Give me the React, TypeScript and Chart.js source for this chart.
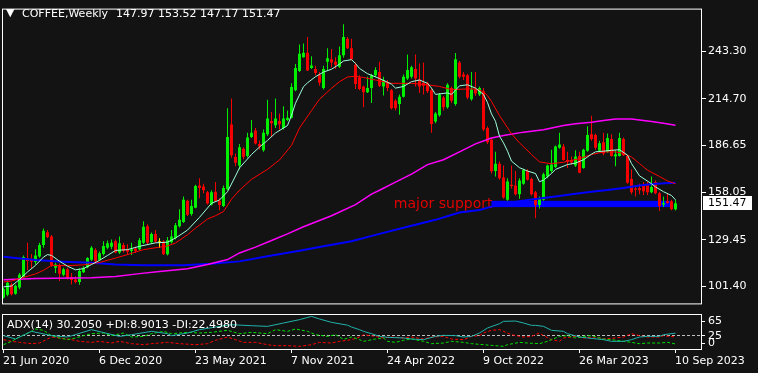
import React, { useEffect, useRef } from 'react';
import { Chart, registerables } from 'chart.js';

Chart.register(...registerables);

const FONT = "'DejaVu Sans', sans-serif";
const BG = '#131313';
const BULL = '#00ee00';
const BEAR = '#f40000';
const DOJI = '#ffee00';

// ---- Weekly candles (index 0 = week of 21 Jun 2020) ----
const opens = [
  94.5, 96.2, 102.5, 96.8, 100.6, 107.0, 118.4, 117.8, 116.0, 119.3,
  126.3, 134.0, 131.5, 112.6, 114.1, 108.3, 111.6, 106.8, 105.4, 103.9,
  109.9, 112.8, 117.4, 123.2, 117.4, 120.9, 124.7, 125.3, 128.6, 121.8,
  126.3, 123.8, 122.6, 124.2, 123.8, 127.6, 137.7, 128.0, 133.0, 128.0,
  128.4, 120.7, 128.0, 130.5, 137.7, 140.2, 153.1, 145.0, 148.8, 162.3,
  161.7, 158.1, 150.8, 158.5, 153.1, 149.8, 160.0, 199.1, 179.5, 174.3,
  184.5, 180.1, 191.6, 195.5, 187.4, 183.5, 193.2, 201.3, 198.6, 201.3,
  197.0, 201.9, 203.2, 219.8, 231.4, 239.8, 242.4, 233.3, 232.7, 229.4,
  221.1, 237.1, 238.5, 237.1, 234.0, 240.9, 251.0, 245.2, 235.2, 227.5,
  222.1, 218.6, 221.1, 228.8, 230.8, 222.1, 224.4, 219.8, 213.4, 211.5,
  215.9, 226.9, 227.9, 232.7, 226.3, 224.4, 224.0, 219.8, 200.9, 204.7,
  215.4, 209.6, 221.1, 211.5, 236.6, 229.4, 228.8, 214.4, 220.6, 217.3,
  219.2, 197.0, 189.9, 171.0, 175.4, 167.1, 153.6, 162.7, 162.3, 156.9,
  163.3, 171.0, 166.2, 158.1, 150.4, 153.6, 167.7, 171.0, 173.5, 185.1,
  185.8, 177.7, 177.7, 174.3, 180.1, 172.9, 183.2, 193.2, 192.8, 183.2,
  188.4, 182.6, 190.3, 179.7, 180.1, 190.3, 180.1, 166.2, 160.5, 160.8,
  162.5, 162.7, 158.1, 164.3, 157.5, 150.8, 152.7, 152.7, 147.97,
];
const highs = [
  100.6, 104.9, 103.5, 102.5, 109.3, 119.9, 127.6, 120.9, 123.8, 127.6,
  136.3, 135.3, 132.4, 115.5, 115.1, 112.6, 112.6, 109.3, 107.4, 112.2,
  113.5, 118.9, 125.7, 124.3, 122.4, 128.6, 129.0, 129.6, 129.6, 131.5,
  127.6, 126.7, 127.6, 125.3, 130.5, 140.7, 138.8, 133.8, 135.4, 130.3,
  129.2, 131.1, 135.4, 139.6, 147.9, 155.6, 153.7, 153.7, 162.7, 166.6,
  163.3, 158.9, 159.4, 164.3, 154.6, 162.3, 209.0, 214.8, 181.6, 187.4,
  185.4, 194.2, 201.9, 197.0, 189.3, 196.1, 214.0, 206.7, 214.8, 205.7,
  210.2, 207.6, 224.0, 235.6, 247.5, 248.1, 252.0, 240.4, 234.6, 230.8,
  234.6, 245.2, 244.8, 239.8, 246.2, 259.7, 252.0, 251.0, 236.6, 228.8,
  222.5, 227.9, 229.8, 233.7, 237.1, 227.9, 226.0, 220.6, 214.4, 217.3,
  229.4, 241.4, 234.6, 241.4, 236.0, 236.6, 225.0, 221.1, 206.7, 218.2,
  216.3, 224.0, 222.1, 242.3, 237.5, 230.8, 229.8, 230.8, 230.8, 222.1,
  221.1, 198.0, 190.5, 182.6, 176.8, 174.3, 166.6, 174.3, 171.0, 166.6,
  172.3, 172.0, 167.1, 158.9, 155.6, 170.0, 174.9, 183.9, 186.4, 194.1,
  187.4, 182.6, 179.7, 183.5, 182.6, 184.5, 198.0, 204.4, 193.6, 189.3,
  194.1, 193.6, 193.2, 183.5, 194.1, 191.2, 180.6, 172.0, 162.3, 163.3,
  164.3, 164.3, 167.7, 165.2, 158.5, 155.6, 157.5, 153.7, 153.52,
];
const lows = [
  93.9, 95.4, 95.8, 96.2, 99.6, 106.4, 111.2, 112.2, 114.5, 118.6,
  124.7, 130.5, 113.2, 109.3, 104.5, 107.4, 105.4, 102.5, 103.1, 102.2,
  109.3, 112.2, 116.6, 115.9, 116.6, 119.9, 123.8, 123.8, 121.3, 120.9,
  121.8, 120.3, 120.3, 121.5, 123.0, 126.9, 126.9, 127.2, 127.6, 124.5,
  120.3, 119.9, 127.2, 129.6, 136.9, 139.6, 143.8, 144.0, 148.5, 154.6,
  157.5, 150.8, 150.2, 152.3, 147.3, 149.2, 159.4, 179.0, 173.9, 172.0,
  178.1, 179.0, 190.9, 187.0, 184.0, 182.6, 192.2, 191.6, 197.0, 196.1,
  196.1, 201.3, 202.8, 219.2, 230.8, 239.5, 231.4, 232.7, 228.8, 222.5,
  220.2, 231.7, 233.7, 232.7, 233.3, 239.5, 244.8, 237.9, 220.6, 219.8,
  209.6, 218.2, 212.1, 227.9, 221.7, 216.7, 219.2, 208.2, 207.6, 205.0,
  215.4, 226.0, 226.9, 222.1, 218.2, 217.3, 218.2, 194.1, 199.9, 203.8,
  207.6, 208.6, 212.1, 210.5, 226.9, 226.0, 214.4, 213.4, 216.3, 216.3,
  195.1, 187.4, 169.5, 167.7, 165.8, 154.2, 153.1, 160.4, 156.2, 154.2,
  162.7, 165.2, 156.2, 142.5, 148.4, 153.1, 166.6, 170.0, 172.9, 184.5,
  177.4, 172.9, 174.9, 173.5, 169.6, 172.3, 182.6, 189.3, 183.9, 182.6,
  180.6, 182.0, 179.7, 173.9, 179.7, 180.1, 163.3, 156.9, 155.6, 156.9,
  156.5, 156.5, 157.5, 156.9, 146.9, 149.2, 151.2, 147.3, 147.17,
];
const closes = [
  99.7, 103.5, 96.6, 101.6, 108.3, 119.0, 116.6, 116.2, 119.9, 126.3,
  134.9, 131.1, 114.1, 114.5, 108.9, 111.6, 106.4, 105.1, 103.9, 110.6,
  112.6, 118.4, 124.7, 116.4, 121.3, 125.7, 127.4, 127.6, 121.8, 127.4,
  122.8, 122.2, 123.8, 122.6, 129.2, 137.3, 127.6, 133.0, 128.4, 128.0,
  120.7, 129.2, 131.5, 138.2, 141.5, 153.7, 144.6, 149.8, 161.9, 160.8,
  159.4, 151.3, 158.1, 152.7, 150.4, 160.8, 191.6, 180.6, 176.0, 185.4,
  179.6, 191.2, 194.2, 187.7, 185.8, 194.1, 202.8, 199.9, 202.8, 199.3,
  202.8, 203.2, 221.7, 233.3, 241.8, 242.4, 231.7, 234.7, 230.2, 224.4,
  232.7, 239.1, 236.6, 235.2, 240.9, 252.0, 245.2, 238.5, 223.6, 220.6,
  218.6, 221.1, 228.8, 232.1, 222.5, 226.0, 221.1, 209.0, 209.0, 215.9,
  227.9, 232.1, 233.7, 226.9, 222.1, 222.5, 219.2, 199.4, 205.7, 217.3,
  209.6, 223.1, 213.4, 238.5, 227.9, 227.9, 215.4, 220.2, 217.9, 221.1,
  196.1, 188.4, 170.8, 175.4, 166.6, 155.0, 164.6, 161.9, 156.9, 165.2,
  171.6, 165.8, 156.9, 150.4, 154.2, 169.1, 174.3, 174.9, 185.8, 187.0,
  177.7, 176.8, 176.2, 179.7, 170.0, 183.9, 192.8, 190.3, 185.1, 187.8,
  181.6, 190.9, 180.1, 181.2, 190.9, 180.6, 163.9, 158.1, 159.7, 159.4,
  158.8, 158.1, 161.4, 157.5, 149.8, 151.7, 151.7, 147.9, 151.47,
];

// ---- Moving averages (bar index, price) ----
const fastMaIdx = [0,2,4,6,8,10,11,12,14,16,18,20,22,24,26,28,31,34,38,41,43,46,49,52,54,56,58,59,62,64,66,68,71,72,73,75,76,78,80,82,84,85,87,88,89,91,94,97,98,100,102,104,106,107,108,111,112,114,116,118,120,121,122,123,124,125,126,127,129,131,133,134,135,137,138,141,143,145,147,148,150,152,154,156,157,159,162,163,165,167,168];
const fastMaVal = [101,101.5,105.5,110,114,119,120.5,120,116.5,113.5,111.3,112,114.5,117,120,123,123.5,125.5,127.6,128,130.5,135.3,143,151.5,153.5,158.5,168,172.9,181,185.5,189.5,194,198.5,204.7,212,222,224.3,228,230.8,232.5,235.6,237.5,238.3,236,233,229.8,226.9,223.5,221.1,222.1,225,226,224,221.1,217.3,218.2,217.3,222.5,223.1,221.1,217.3,212.4,205.5,201,192,188,183,177,173,171,169.5,164.5,165.5,169.5,172,174.9,175.8,177.8,181.2,182.6,183,183.5,183.9,180.6,175.5,168.1,163.3,161.4,158.5,156.2,153.6];

const slowMaIdx = [0,2,4,8,10,12,16,20,24,28,31,35,39,41,43,46,48,51,53,55,57,59,62,66,69,72,74,77,79,82,84,86,88,90,93,97,102,106,109,112,116,118,120,121,122,124,127,129,132,134,137,140,144,147,150,153,155,157,159,161,164,166,168];
const slowMaVal = [104,104.5,106,108.8,111,114,113.8,114.3,115.7,118.4,120.5,123.5,125,125.7,127.5,132.5,136.5,142,144,146.5,154,159.4,166,172,177.7,186.5,197,207.5,214.4,221,225,227.8,228.3,227.5,226,224,224,223.1,222.1,220.2,220.6,220.6,219,216.5,213,204.5,193.5,188,181,176.5,175.4,176.3,178.5,181,182.5,182.6,181.6,179.5,175.5,171.5,167.7,165,163.3];

const ma100Idx = [0,8,22,28,34,39,46,51,56,59,63,67,71,75,82,88,92,94,98,102,106,110,114,118,122,125,130,135,140,143,147,150,153,157,160,162,165,168];
const ma100Val = [105.3,106,106.5,107.3,109,110.3,112,114.5,117.5,121.5,125,129,133,137.3,144,150.7,157,159.4,164.3,169.1,174.9,177.8,182.6,187.4,191,192.5,194.5,196,198.5,199.5,200.5,201.5,202.5,202.4,201.5,200.9,199.9,198.6];

const ma200Idx = [0,3,8,15,22,28,35,45,52,59,66,74,80,87,94,101,108,114,119,122,126,131,138,143,147,151,155,159,163,168];
const ma200Val = [119.2,118.5,117.2,116.2,115.5,114.5,114.1,114.1,115,116.4,119.5,122.8,125.5,128.6,133,137.3,141.5,145.9,147.5,149.5,151.5,153.5,155.6,157.3,158.5,159.5,160.8,162.3,163.3,163.9];

// ---- ADX(14) panel (bar index, value) ----
const adxIdx = [0,3,7,12,16,22,29,32,37,41,42,46,49,53,57,62,66,70,74,77,79,82,86,87,89,90,92,94,96,100,102,105,108,110,113,115,117,119,121,124,125,128,130,132,133,135,137,140,141,144,146,150,152,155,157,159,161,164,165,168];
const adxVal = [25.3,18.7,33.8,25.3,22.6,37.1,23.9,27.2,33.8,29.2,25.3,30.5,37.1,42.3,46.9,44.9,43.6,50.2,56.8,63.3,58.1,51.5,46,42.3,37.1,33.8,29.2,23.9,22,20.7,18.7,17.4,23.9,25.9,25.3,22.6,23.9,30.5,40.4,48.9,53.5,54.1,50.2,45.6,45.6,43.6,35.8,33.8,29.2,22.6,20.7,17.4,14.1,14.1,17.4,22.6,23.9,23.9,27.2,30.2];
const plusDiIdx = [0,2,4,7,8,10,12,14,16,18,20,22,25,27,30,32,35,37,40,42,46,49,52,56,59,62,66,68,71,73,76,78,81,83,85,87,89,90,93,95,96,98,100,102,105,107,110,112,115,117,120,122,125,126,129,131,134,136,139,141,143,145,147,150,152,155,157,159,161,164,166,168];
const plusDiVal = [7.5,14.1,22.6,33.8,38.4,35.8,25.3,20.7,17.4,20.7,25.3,29.2,30.5,25.3,30.5,22.6,23.9,29.2,33.8,29.2,31.8,30.5,31.8,35.8,29.2,31.8,29.2,37.1,33.8,38.4,33.8,27.2,23.9,27.2,18,22.6,17.4,14.1,18.7,20.7,14.1,12.1,16.1,18.7,14.1,9.5,10.8,14.1,12.1,9.5,7.5,6.2,4.2,7.5,12.1,10.8,9.5,14.1,23.9,25.3,20.7,23.9,25.3,18.7,17.4,14.1,12.1,9.5,10.8,10.8,12.1,8.9];
const minusDiIdx = [0,2,4,7,9,12,14,17,19,22,24,27,29,32,35,37,41,44,48,51,53,56,58,60,63,66,68,71,74,77,79,82,84,87,89,90,93,95,97,100,102,105,107,110,112,115,117,119,120,122,124,125,127,130,132,134,135,137,139,140,143,145,148,150,153,155,157,159,161,164,165,168];
const minusDiVal = [17.4,14.1,12.1,9.5,10.8,22.6,20.7,17.4,14.1,12.1,14.1,10.8,14.1,9.5,7.5,9.5,12.1,9.5,7.5,9.5,16.1,22.6,17.4,12.1,12.1,7.5,5.6,5.6,4.2,7.5,12.1,10.8,14.1,17.4,22.6,27.2,23.9,20.7,22.6,20.7,22.6,18.7,22.6,23.9,18.7,17.4,23.9,25.3,30.5,35.8,37.1,33.8,27.2,22.6,23.9,30.5,25.3,17.4,14.1,20.7,23.9,20.7,22.6,18.7,20.7,22.6,29.2,25.3,22.6,22.6,25.3,22.5];
const adxLevel = 25;
const adxScaleLabels = [65, 25, 0];

// ---- Axes / annotations ----
const priceTicks = [101.40, 129.45, 158.05, 186.65, 214.70, 243.30];
const weekTickIdx = [0, 24, 48, 72, 96, 120, 144, 168];
const weekTickLabels = ['21 Jun 2020', '6 Dec 2020', '23 May 2021', '7 Nov 2021', '24 Apr 2022', '9 Oct 2022', '26 Mar 2023', '10 Sep 2023'];
const symbolTitle = 'COFFEE,Weekly';
const ohlcTitle = '147.97 153.52 147.17 151.47';
const adxTitle = 'ADX(14) 30.2050 +DI:8.9013 -DI:22.4980';
const supportText = 'major support';
const supportFrom = 122;
const supportTo = 166.7;
const supportLow = 149.2;
const supportHigh = 153.0;

const X_MIN = -0.375;
const X_MAX = 174.625;
const Y_MIN = 90.4;
const Y_MAX = 269.15;
const ADX_MIN = -2.95;
const ADX_MAX = 67.95;

const pts = (idx: number[], val: number[]) => idx.map((x, i) => ({ x, y: val[i] }));
const candleColor = (i: number) => (closes[i] > opens[i] ? BULL : closes[i] < opens[i] ? BEAR : DOJI);

const bgPlugin = {
  id: 'bgFill',
  beforeDraw(chart: any) {
    const { ctx, width, height } = chart;
    ctx.save();
    ctx.fillStyle = BG;
    ctx.fillRect(0, 0, width, height);
    ctx.restore();
  },
};

const drawFrame = (chart: any) => {
  const { ctx, chartArea: a } = chart;
  ctx.save();
  ctx.strokeStyle = '#ffffff';
  ctx.lineWidth = 1;
  ctx.strokeRect(a.left + 0.5, a.top + 0.5, a.right - a.left - 1, a.bottom - a.top - 1);
  ctx.restore();
};

const mainDecor = {
  id: 'mainDecor',
  beforeDatasetsDraw(chart: any) {
    const { ctx, scales } = chart;
    const x1 = scales.x.getPixelForValue(supportFrom);
    const x2 = scales.x.getPixelForValue(supportTo);
    const y1 = scales.y.getPixelForValue(supportHigh);
    const y2 = scales.y.getPixelForValue(supportLow);
    ctx.save();
    ctx.fillStyle = '#0000ff';
    ctx.fillRect(x1, y1, x2 - x1, y2 - y1);
    ctx.fillStyle = '#e00000';
    ctx.font = `14px ${FONT}`;
    ctx.textAlign = 'right';
    ctx.textBaseline = 'alphabetic';
    ctx.fillText(supportText, x1 + 1, y2 + 1);
    ctx.restore();
  },
  afterDraw(chart: any) {
    const { ctx, chartArea: a, scales } = chart;
    drawFrame(chart);
    ctx.save();
    ctx.fillStyle = '#ffffff';
    ctx.font = `11px ${FONT}`;
    ctx.textBaseline = 'alphabetic';
    ctx.textAlign = 'left';
    ctx.fillText('\u25BC', 6, 16);
    ctx.fillText(symbolTitle, 22, 17);
    ctx.fillText(ohlcTitle, 116, 17);
    const last = closes[closes.length - 1];
    const yc = scales.y.getPixelForValue(last);
    ctx.fillRect(a.right + 1, Math.round(yc) - 7, 49, 14);
    ctx.fillStyle = '#000000';
    ctx.textBaseline = 'middle';
    ctx.fillText(last.toFixed(2), a.right + 6, Math.round(yc) + 0.5);
    ctx.restore();
  },
};

const indDecor = {
  id: 'indDecor',
  beforeDatasetsDraw(chart: any) {
    const { ctx, chartArea: a, scales } = chart;
    const y = Math.floor(scales.y.getPixelForValue(adxLevel)) + 0.5;
    ctx.save();
    ctx.strokeStyle = '#c0c0c0';
    ctx.lineWidth = 1;
    ctx.setLineDash([3, 2]);
    ctx.beginPath();
    ctx.moveTo(a.left, y);
    ctx.lineTo(a.right, y);
    ctx.stroke();
    ctx.restore();
  },
  afterDraw(chart: any) {
    const { ctx, chartArea: a, scales } = chart;
    drawFrame(chart);
    ctx.save();
    ctx.fillStyle = '#ffffff';
    ctx.strokeStyle = '#ffffff';
    ctx.lineWidth = 1;
    ctx.font = `11px ${FONT}`;
    ctx.textAlign = 'left';
    ctx.textBaseline = 'alphabetic';
    ctx.fillText(adxTitle, 7, 15);
    ctx.textBaseline = 'middle';
    adxScaleLabels.forEach((v) => {
      const yv = scales.y.getPixelForValue(v);
      const ly = Math.min(Math.max(yv, a.top + 7), a.bottom - 7);
      ctx.beginPath();
      ctx.moveTo(a.right, Math.floor(ly) + 0.5);
      ctx.lineTo(a.right + 3, Math.floor(ly) + 0.5);
      ctx.stroke();
      ctx.fillText(String(v), a.right + 6, ly);
    });
    weekTickIdx.forEach((idx, k) => {
      const px = Math.floor(scales.x.getPixelForValue(idx));
      ctx.beginPath();
      ctx.moveTo(px + 0.5, a.bottom);
      ctx.lineTo(px + 0.5, a.bottom + 3);
      ctx.stroke();
      ctx.fillText(weekTickLabels[k], px, a.bottom + 11);
    });
    ctx.restore();
  },
};

const lineDs = (data: any[], color: string, width: number, dash: number[] = []) => ({
  type: 'line' as const,
  data,
  borderColor: color,
  borderWidth: width,
  borderDash: dash,
  pointRadius: 0,
  tension: 0,
  fill: false,
  order: 0,
});

export default function App() {
  const mainRef = useRef<HTMLCanvasElement>(null);
  const indRef = useRef<HTMLCanvasElement>(null);

  useEffect(() => {
    const colors = opens.map((_, i) => candleColor(i));
    const bodies = opens.map((o, i) => ({ x: i, y: [o, closes[i]] }));
    const wicks = lows.map((l, i) => ({ x: i, y: [l, highs[i]] }));
    const barCommon = {
      type: 'bar' as const,
      grouped: false,
      categoryPercentage: 1,
      barPercentage: 1,
      inflateAmount: 0,
      borderWidth: 0,
      backgroundColor: colors,
    };
    const weekTicks = (s: any) => { s.ticks = weekTickIdx.map((v) => ({ value: v })); };

    const main = new Chart(mainRef.current as HTMLCanvasElement, {
      type: 'bar',
      data: {
        datasets: [
          lineDs(pts(fastMaIdx, fastMaVal), '#a0ffdc', 1),
          lineDs(pts(slowMaIdx, slowMaVal), '#ff0000', 1),
          lineDs(pts(ma100Idx, ma100Val), '#ff00ff', 1.5),
          lineDs(pts(ma200Idx, ma200Val), '#0000ff', 2),
          { ...barCommon, data: bodies, maxBarThickness: 3, minBarLength: 1, order: 1 },
          { ...barCommon, data: wicks, maxBarThickness: 1, order: 2 },
        ] as any,
      },
      options: {
        responsive: false,
        animation: false,
        devicePixelRatio: 1,
        events: [],
        layout: { padding: { left: 2, top: 2, right: 0, bottom: 2 } },
        plugins: { legend: { display: false }, tooltip: { enabled: false } },
        scales: {
          x: { type: 'linear', min: X_MIN, max: X_MAX, display: false, offset: false, afterBuildTicks: weekTicks },
          y: {
            type: 'linear',
            position: 'right',
            min: Y_MIN,
            max: Y_MAX,
            afterBuildTicks: (s: any) => { s.ticks = priceTicks.map((v) => ({ value: v })); },
            afterFit: (s: any) => { s.width = 56; },
            grid: { drawOnChartArea: false, drawTicks: true, tickLength: 4, color: '#ffffff' },
            border: { display: false },
            ticks: {
              color: '#ffffff',
              font: { family: FONT, size: 11 },
              padding: 2,
              autoSkip: false,
              callback: (v: any) => Number(v).toFixed(2),
            },
          },
        },
      } as any,
      plugins: [bgPlugin, mainDecor],
    });

    const ind = new Chart(indRef.current as HTMLCanvasElement, {
      type: 'line',
      data: {
        datasets: [
          lineDs(pts(adxIdx, adxVal), '#20b2aa', 1),
          lineDs(pts(plusDiIdx, plusDiVal), '#00e000', 1, [3, 2]),
          lineDs(pts(minusDiIdx, minusDiVal), '#ff0000', 1, [3, 2]),
        ] as any,
      },
      options: {
        responsive: false,
        animation: false,
        devicePixelRatio: 1,
        events: [],
        layout: { padding: { left: 2, top: 1, right: 56, bottom: 23 } },
        plugins: { legend: { display: false }, tooltip: { enabled: false } },
        scales: {
          x: { type: 'linear', min: X_MIN, max: X_MAX, display: false, afterBuildTicks: weekTicks },
          y: { type: 'linear', min: ADX_MIN, max: ADX_MAX, display: false },
        },
      } as any,
      plugins: [bgPlugin, indDecor],
    });

    return () => {
      main.destroy();
      ind.destroy();
    };
  }, []);

  return (
    <div style={{ position: 'fixed', left: 0, top: 0, width: 758, height: 373, background: BG, overflow: 'hidden' }}>
      <canvas ref={mainRef} width={758} height={313} style={{ position: 'absolute', left: 0, top: 0, width: 758, height: 313 }} />
      <canvas ref={indRef} width={758} height={60} style={{ position: 'absolute', left: 0, top: 313, width: 758, height: 60 }} />
    </div>
  );
}
